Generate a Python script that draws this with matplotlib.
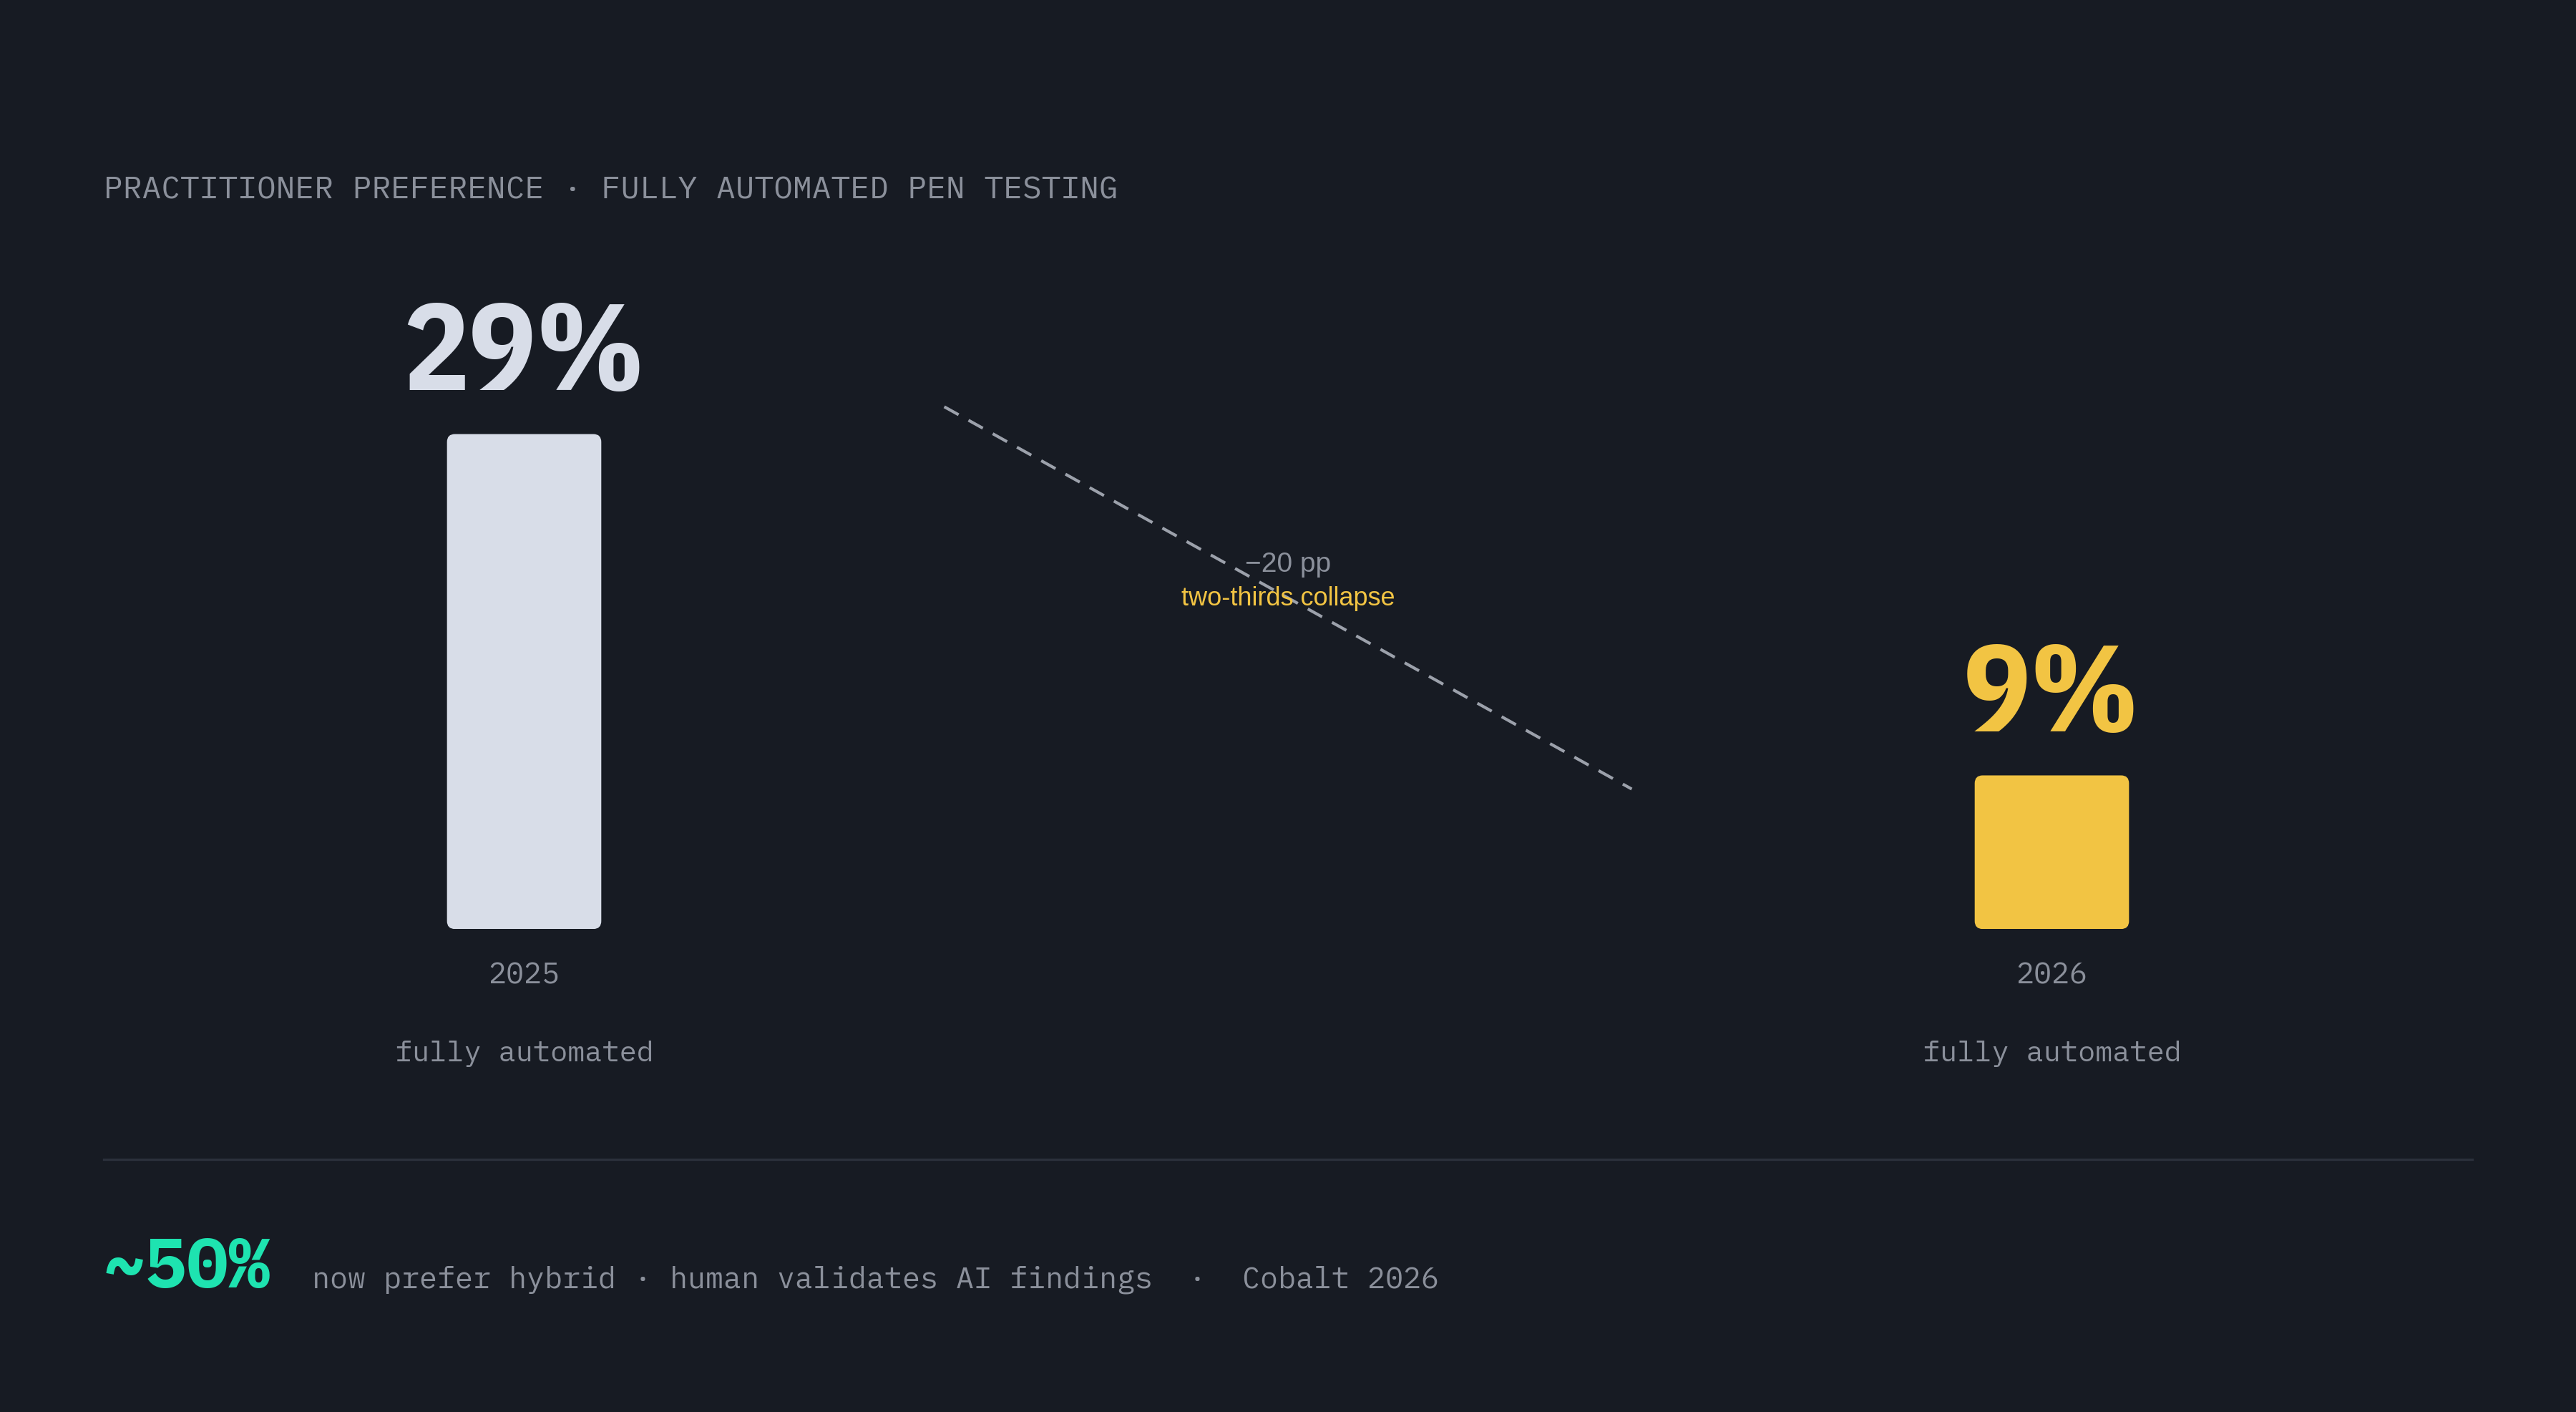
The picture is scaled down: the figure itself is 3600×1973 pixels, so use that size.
import matplotlib
matplotlib.use("Agg")
import matplotlib.pyplot as plt
from matplotlib.patches import FancyBboxPatch
from matplotlib.lines import Line2D

# data
years = ["2025", "2026"]
shares = [29, 9]
share_labels = ["29%", "9%"]
sublabels = ["fully automated", "fully automated"]
delta_label = "\u221220 pp"
delta_note = "two-thirds collapse"
title = "PRACTITIONER PREFERENCE \u00b7 FULLY AUTOMATED PEN TESTING"
hybrid_share = "~50%"
footer = "now prefer hybrid \u00b7 human validates AI findings  \u00b7  Cobalt 2026"

# colours
BG = "#171b23"
MUTED = "#8b909b"
BAR1 = "#d8dde8"
YELLOW = "#f2c443"
GREEN = "#1ee3b0"
RULE = "#2b303b"
DASH = "#9ca1ab"

MONO = ["IBM Plex Mono", "DejaVu Sans Mono"]
BIG = ["IBM Plex Sans Condensed", "Roboto Condensed", "Liberation Sans Narrow",
       "Roboto", "DejaVu Sans"]
SANS = ["Liberation Sans", "DejaVu Sans"]

fig = plt.figure(figsize=(18, 9.87), dpi=200, facecolor=BG)

# bar axes: x = category index, y = percent
ax = fig.add_axes([0.0402, 0.3419, 0.9196, 0.4651])
ax.set_facecolor(BG)
ax.set_xlim(-0.2753, 1.2753)
ax.set_ylim(0, 38.5)
ax.axis("off")

bar_colors = [BAR1, YELLOW]
label_colors = [BAR1, YELLOW]
bar_w = 0.101

# rounding in equal pixels on both axes
px_x = ax.transData.transform((1, 0))[0] - ax.transData.transform((0, 0))[0]
px_y = ax.transData.transform((0, 1))[1] - ax.transData.transform((0, 0))[1]
radius_px = 11
for i, v in enumerate(shares):
    patch = FancyBboxPatch((i - bar_w / 2, 0), bar_w, v,
                           boxstyle=f"round,pad=0,rounding_size={radius_px / px_x}",
                           mutation_aspect=px_x / px_y,
                           facecolor=bar_colors[i], edgecolor="none")
    ax.add_patch(patch)
    ax.annotate(share_labels[i], xy=(i, v), xytext=(0, 22.5), textcoords="offset points",
                ha="center", va="baseline", fontsize=62, fontweight="bold",
                color=label_colors[i], family=BIG)
    ax.annotate(years[i], xy=(i, 0), xytext=(0, -23), textcoords="offset points",
                ha="center", va="center", fontsize=15, color=MUTED, family=MONO)
    ax.annotate(sublabels[i], xy=(i, 0), xytext=(0, -62.5), textcoords="offset points",
                ha="center", va="center", fontsize=14.5, color=MUTED, family=MONO)

# dashed connector between the two bars
ax.plot([0.275, 0.725], [shares[0] + 1.6, shares[1] - 0.8], color=DASH,
        lw=1.5, linestyle=(0, (5.5, 3.8)), solid_capstyle="butt")
ax.text(0.5, 21.4, delta_label, ha="center", va="center", fontsize=14,
        color=MUTED, family=SANS)
ax.text(0.5, 19.4, delta_note, ha="center", va="center", fontsize=13,
        color=YELLOW, family=SANS)

# header
fig.text(0.0402, 0.865, title, ha="left", va="center", fontsize=16,
         color=MUTED, family=MONO)

# divider
fig.add_artist(Line2D([0.0402, 0.9598], [0.179, 0.179], transform=fig.transFigure,
                      color=RULE, lw=1.2))

# footer
fig.text(0.0402, 0.0884, hybrid_share, ha="left", va="baseline", fontsize=35,
         fontweight="bold", color=GREEN, family=MONO)
fig.text(0.1212, 0.0884, footer, ha="left", va="baseline", fontsize=15,
         color=MUTED, family=MONO)

fig.savefig("out.png", dpi=200, facecolor=BG)
